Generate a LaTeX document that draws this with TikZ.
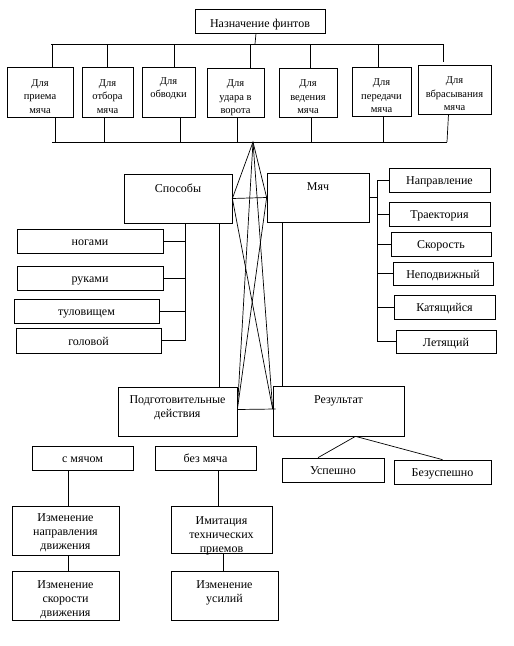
\documentclass[tikz,border=0pt]{standalone}
\usepackage{fontspec}
\setmainfont{Liberation Serif}
\begin{document}
\begin{tikzpicture}[x=1pt,y=-1pt,line width=0.7pt,
    box/.style={draw,inner sep=1pt,align=center,text height=9.5pt,text depth=0pt,font=\fontsize{12}{14}\selectfont},
    sbox/.style={box,text height=42pt,font=\fontsize{10.5}{13.5}\selectfont},
    up/.style={text height=0pt,text depth=#1},
    wh/.style 2 args={minimum width=#1,minimum height=#2}]
    \useasboundingbox(0,0)rectangle(514,646);
    % top row
    \node[box,wh={130}{24},text height=12pt](title)at(260,21){Назначение финтов};
    \node[sbox,wh={66}{50}](d1)at(40,92){Для\\приема\\мяча};
    \node[sbox,wh={51}{50}](d2)at(107.5,92){Для\\отбора\\мяча};
    \node[sbox,wh={53}{50},text height=11pt](d3)at(168.5,92){Для\\обводки};
    \node[sbox,wh={57}{49}](d4)at(235.5,92.5){Для\\удара в\\ворота};
    \node[sbox,wh={58}{49}](d5)at(308,92.5){Для\\ведения\\мяча};
    \node[sbox,wh={59}{49}](d6)at(381.5,91.5){Для\\передачи\\мяча};
    \node[sbox,wh={73}{49}](d7)at(454.5,89.5){Для\\вбрасывания\\мяча};
    \coordinate(tb)at(51,44);
    \coordinate(bb)at(52,142);
    \draw(tb)--(443,44);
    \draw(bb)--(447,142);
    \draw([xshift=-4]title.south)--([xshift=-5]title.south|-tb);
    \foreach \n/\a/\b in {d1/12/15,d2/0/-3.5,d3/5.5/11.5,d4/14.5/1.5,d5/2/3,d6/-3.5/1.5}{
        \draw([xshift=\a]\n.north)--([xshift=\a]\n.north|-tb);
        \draw([xshift=\b]\n.south)--([xshift=\b]\n.south|-bb);
    }
    \draw([xshift=-11.5,yshift=3]d7.north)--([xshift=-11.5]d7.north|-tb);
    \draw([xshift=-6]d7.south)--([xshift=-7.5]d7.south|-bb);
    % middle
    \node[box,wh={108}{49},up=13pt](spos)at(178,198.5){Способы};
    \node[box,wh={102}{49},up=15pt](myach)at(318,197.5){Мяч};
    \node[box,wh={146}{24}](nogami)at(90,241){ногами};
    \node[box,wh={146}{24}](rukami)at(90,278){руками};
    \node[box,wh={145}{24}](tulov)at(86.5,311){туловищем};
    \node[box,wh={145}{25}](golov)at(88.5,340.5){головой};
    \node[box,wh={101}{24}](napr)at(439.5,180){Направление};
    \node[box,wh={101}{24}](traek)at(439.5,214){Траектория};
    \node[box,wh={100}{24}](skor)at(441,244){Скорость};
    \node[box,wh={100}{23}](nepodv)at(443,273.5){Неподвижный};
    \node[box,wh={101}{24}](katy)at(444.5,307){Катящийся};
    \node[box,wh={100}{23}](let)at(446,341.5){Летящий};
    \node[box,wh={119}{49},text height=12pt](podg)at(177.5,411.5){Подготовительные\\действия};
    \node[box,wh={131}{50},up=16pt](rez)at(338.5,411){Результат};
    \node[box,wh={102}{24}](usp)at(333,470){Успешно};
    \node[box,wh={97}{24}](bezusp)at(442.5,472){Безуспешно};
    \coordinate(apex)at(253,142);
    \coordinate(sv)at([xshift=7]spos.south);
    \coordinate(mv)at([xshift=8]myach.east);
    \draw(sv)|-(golov.east);
    \foreach \n in {nogami,rukami,tulov}\draw(\n.east)--(\n.east-|sv);
    \draw(myach.east)--(mv);
    \draw(napr.west)-|(mv)|-(let.west);
    \foreach \n in {traek,skor,nepodv,katy}\draw(\n.west)--(\n.west-|mv);
    \draw([xshift=41]spos.south)--([xshift=41]spos.south|-podg.north);
    \draw([xshift=-36]myach.south)--([xshift=-36]myach.south|-rez.north);
    \draw(apex)--(spos.east)--(myach.west)--cycle;
    \draw(apex)--([yshift=2]podg.east);
    \draw(apex)--([yshift=2]rez.west);
    \draw(spos.east)--([yshift=2]rez.west);
    \draw(myach.west)--([yshift=2]podg.east);
    \draw([yshift=2]podg.east)--([xshift=3,yshift=2]rez.west);
    \draw([xshift=17]rez.south)--([xshift=-15]usp.north);
    \draw([xshift=17]rez.south)--(bezusp.north);
    % bottom
    \node[box,wh={101}{24}](smyach)at(82.5,458){с мячом};
    \node[box,wh={101}{24}](bezm)at(205.5,458){без мяча};
    \node[box,wh={107}{49},text height=37pt](izmnapr)at(65.5,530.5){Изменение\\направления\\движения};
    \node[box,wh={107}{49},text height=41pt](izmskor)at(65.5,595.5){Изменение\\скорости\\движения};
    \node[box,wh={101}{47},text height=45pt](imit)at(221.5,529.5){Имитация\\технических\\приемов};
    \node[box,wh={107}{49},text height=13pt](izmus)at(224.5,595.5){Изменение\\усилий};
    \draw([xshift=-14.5]smyach.south)--([xshift=-14.5]smyach.south|-izmnapr.north);
    \draw([xshift=2.5]izmnapr.south)--([xshift=2.5]izmnapr.south|-izmskor.north);
    \draw([xshift=12.5]bezm.south)--([xshift=12.5]bezm.south|-imit.north);
    \draw([xshift=1.5]imit.south)--([xshift=1.5]imit.south|-izmus.north);
\end{tikzpicture}
\end{document}
